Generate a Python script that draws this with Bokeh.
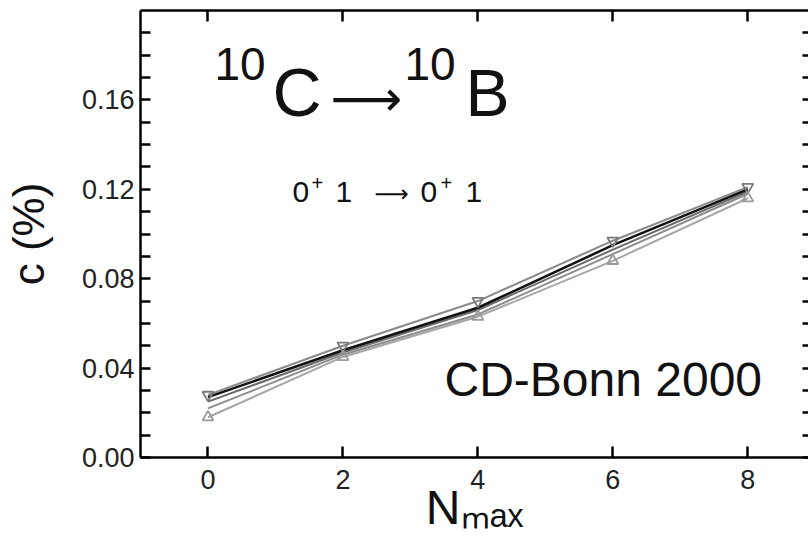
import math
from bokeh.plotting import figure
from bokeh.models import Range1d, FixedTicker, LinearAxis, Label
from bokeh.embed import file_html
from bokeh.resources import INLINE

# ---- data ----
nmax = [0, 2, 4, 6, 8]
series_inv_tri = [0.028, 0.050, 0.070, 0.097, 0.121]
series_black = [0.027, 0.048, 0.067, 0.095, 0.120]
series_dark = [0.025, 0.047, 0.066, 0.093, 0.119]
series_mid = [0.022, 0.046, 0.064, 0.091, 0.118]
series_tri = [0.018, 0.045, 0.063, 0.088, 0.116]

x_ticks = [0, 2, 4, 6, 8]
y_ticks = [0.00, 0.04, 0.08, 0.12, 0.16]
y_tick_labels = ["0.00", "0.04", "0.08", "0.12", "0.16"]
y_minor = [0.01, 0.02, 0.03, 0.05, 0.06, 0.07, 0.09, 0.10, 0.11,
           0.13, 0.14, 0.15, 0.17, 0.18, 0.19]

x_label = "N\u2098\u2090\u2093"
y_label = "c (%)"

FONT = "Liberation Sans"

p = figure(width=808, height=542, output_backend="svg", toolbar_location=None,
           x_range=Range1d(-1.0, 8.9), y_range=Range1d(0.0, 0.2),
           min_border_left=140, min_border_right=0, min_border_top=10,
           min_border_bottom=85)
p.outline_line_color = None
p.grid.visible = False
p.background_fill_color = "white"
p.border_fill_color = "white"

# bottom axis
xa = p.xaxis[0]
xa.ticker = FixedTicker(ticks=x_ticks, minor_ticks=[])
xa.major_tick_in = 11
xa.major_tick_out = 0
xa.minor_tick_in = 0
xa.minor_tick_out = 0
xa.axis_line_width = 2.5
xa.major_tick_line_width = 2.5
xa.major_label_text_font = FONT
xa.major_label_text_font_size = "27px"
xa.major_label_text_color = "#222222"
xa.major_label_standoff = 12
xa.axis_label = x_label
xa.axis_label_text_font = FONT
xa.axis_label_text_font_size = "48px"
xa.axis_label_text_font_style = "normal"
xa.axis_label_text_color = "#111111"
xa.axis_label_standoff = -11

# left axis
ya = p.yaxis[0]
ya.ticker = FixedTicker(ticks=y_ticks, minor_ticks=y_minor)
ya.major_label_overrides = {t: s for t, s in zip(y_ticks, y_tick_labels)}
ya.major_tick_in = 10
ya.major_tick_out = 0
ya.minor_tick_in = 10
ya.minor_tick_out = 0
ya.axis_line_width = 2.5
ya.major_tick_line_width = 2.5
ya.minor_tick_line_width = 2.5
ya.major_label_text_font = FONT
ya.major_label_text_font_size = "27px"
ya.major_label_text_color = "#222222"
ya.major_label_standoff = 6
ya.axis_label = y_label
ya.axis_label_text_font = FONT
ya.axis_label_text_font_size = "44px"
ya.axis_label_text_font_style = "normal"
ya.axis_label_text_color = "#111111"
ya.axis_label_standoff = 26

# top axis (ticks only)
ta = LinearAxis(ticker=FixedTicker(ticks=x_ticks, minor_ticks=[]),
                major_tick_in=11, major_tick_out=0, minor_tick_in=0, minor_tick_out=0,
                axis_line_width=2.5, major_tick_line_width=2.5,
                major_label_text_font_size="1px", major_label_text_color=None,
                major_label_standoff=0)
p.add_layout(ta, "above")

# right axis (ticks only)
ra = LinearAxis(ticker=FixedTicker(ticks=y_ticks, minor_ticks=y_minor),
                major_tick_in=6, major_tick_out=0, minor_tick_in=6, minor_tick_out=0,
                axis_line_color=None, major_tick_line_width=2.5, minor_tick_line_width=2.5,
                major_label_text_font_size="1px", major_label_text_color=None,
                major_label_standoff=0)
p.add_layout(ra, "right")

# series
p.line(nmax, series_tri, line_color="#a6a6a6", line_width=2)
p.line(nmax, series_mid, line_color="#8c8c8c", line_width=2)
p.line(nmax, series_dark, line_color="#6a6a6a", line_width=2)
p.line(nmax, series_inv_tri, line_color="#8a8a8a", line_width=2)
p.line(nmax, series_black, line_color="#111111", line_width=2.5)
p.scatter(nmax, series_inv_tri, marker="inverted_triangle", size=11,
          fill_color=None, line_color="#7a7a7a", line_width=1.8)
p.scatter(nmax, series_tri, marker="triangle", size=11,
          fill_color=None, line_color="#9a9a9a", line_width=1.8)

# ---- texts (screen units relative to frame bottom-left) ----
FL, FB = 140, 457


def lab(text, X, Y, size, font=FONT, color="#111111"):
    # Y is the desired baseline (pixels from top); empirical baseline shift
    p.add_layout(Label(x=X - FL, y=FB - (Y - 0.39 * size), x_units="screen", y_units="screen",
                       text=text, text_font=font, text_font_size=f"{size}px",
                       text_color=color, text_align="left", text_baseline="alphabetic"))


# title 10C -> 10B
lab("10", 214, 81, 46)
lab("C", 272, 118, 68)
lab("\u27f6", 330, 118, 50, font="DejaVu Sans")
lab("10", 404, 81, 46)
lab("B", 465, 118, 66)

# transition 0+ 1 -> 0+ 1
lab("0", 292, 203, 30)
lab("+", 311, 190, 20)
lab("1", 335, 203, 30)
lab("\u27f6", 374, 203, 24, font="DejaVu Sans")
lab("0", 420, 203, 30)
lab("+", 440, 190, 20)
lab("1", 465, 203, 30)

# potential name
lab("CD-Bonn 2000", 444, 398, 48)

open("out.html", "w").write(file_html(p, INLINE))
